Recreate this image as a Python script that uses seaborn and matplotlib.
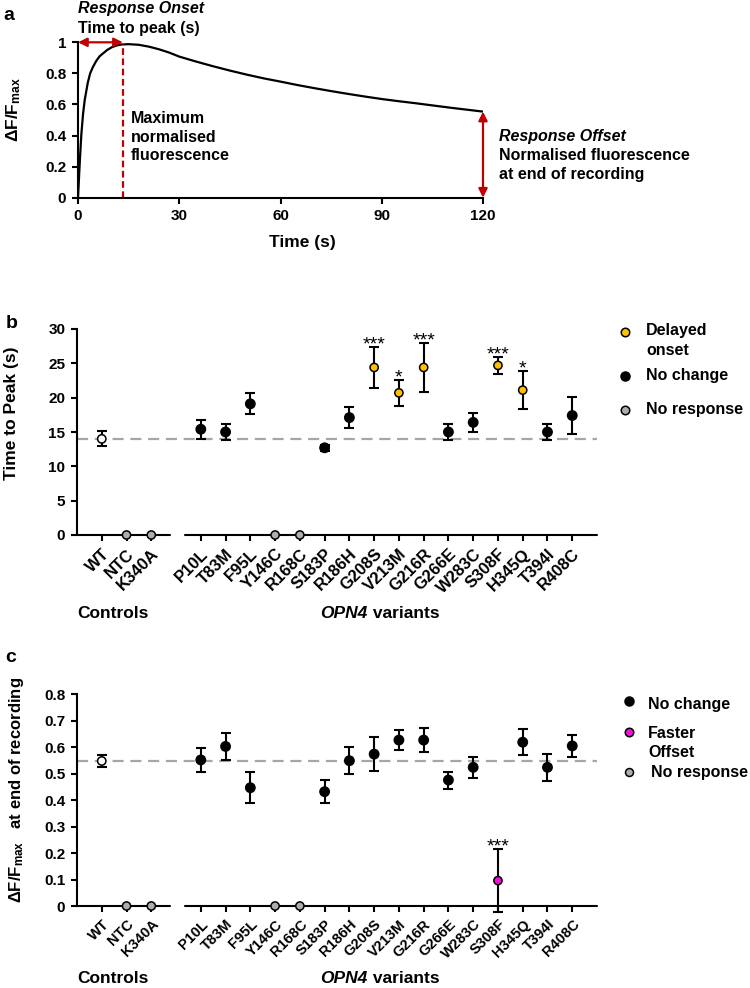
import matplotlib
matplotlib.use('Agg')
import matplotlib.pyplot as plt
import matplotlib.transforms as mtrans
from matplotlib.lines import Line2D
from matplotlib.ticker import FuncFormatter
import seaborn as sns
import pandas as pd

# ---------------- data ----------------
trace_time = [0, 0.3, 0.6, 1.0, 1.5, 2.0, 2.9, 3.6, 4.4, 5.4, 6.4, 7.5, 8.6, 10, 11.5, 13,
              15, 18, 21, 24, 27, 30, 35, 40, 45, 50, 55, 60, 65, 70, 75, 80, 85, 90,
              95, 100, 105, 110, 115, 120]
trace_dff = [0, 0.13, 0.26, 0.41, 0.54, 0.63, 0.74, 0.80, 0.84, 0.88, 0.91, 0.93, 0.95, 0.968,
             0.98, 0.986, 0.988, 0.984, 0.972, 0.955, 0.934, 0.908, 0.876, 0.846, 0.818, 0.792,
             0.768, 0.747, 0.725, 0.705, 0.686, 0.668, 0.651, 0.635, 0.621, 0.608, 0.594,
             0.58, 0.567, 0.554]
onset_time = 13.3
peak_dff = 0.99
offset_dff = 0.554

controls = ['WT', 'NTC', 'K340A']
variants = ['P10L', 'T83M', 'F95L', 'Y146C', 'R168C', 'S183P', 'R186H', 'G208S', 'V213M',
            'G216R', 'G266E', 'W283C', 'S308F', 'H345Q', 'T394I', 'R408C']
genotypes = controls + variants
x_pos = [0, 1, 2] + list(range(4, 20))

ttp_mean = [14.0, 0, 0, 15.4, 15.0, 19.1, 0, 0, 12.7, 17.1, 24.4, 20.7, 24.4, 15.0, 16.4,
            24.7, 21.1, 15.0, 17.4]
ttp_sem = [1.1, 0, 0, 1.35, 1.2, 1.55, 0, 0, 0.4, 1.55, 3.0, 1.9, 3.6, 1.2, 1.35, 1.2, 2.8,
           1.2, 2.7]
ttp_class = ['WT', 'No response', 'No response', 'No change', 'No change', 'No change',
             'No response', 'No response', 'No change', 'No change', 'Delayed onset',
             'Delayed onset', 'Delayed onset', 'No change', 'No change', 'Delayed onset',
             'Delayed onset', 'No change', 'No change']
ttp_stars = ['', '', '', '', '', '', '', '', '', '', '***', '*', '***', '', '', '***', '*', '', '']

off_mean = [0.548, 0, 0, 0.552, 0.603, 0.447, 0, 0, 0.432, 0.549, 0.574, 0.627, 0.627, 0.476,
            0.524, 0.096, 0.619, 0.524, 0.605]
off_sem = [0.023, 0, 0, 0.045, 0.052, 0.058, 0, 0, 0.044, 0.05, 0.065, 0.039, 0.044, 0.032,
           0.04, 0.12, 0.048, 0.052, 0.043]
off_class = ['WT', 'No response', 'No response', 'No change', 'No change', 'No change',
             'No response', 'No response', 'No change', 'No change', 'No change', 'No change',
             'No change', 'No change', 'No change', 'Faster offset', 'No change', 'No change',
             'No change']
off_stars = ['', '', '', '', '', '', '', '', '', '', '', '', '', '', '', '***', '', '', '']

# ---------------- style ----------------
sns.set_style('ticks')
plt.rcParams['font.family'] = ['Liberation Sans', 'DejaVu Sans']
plt.rcParams['font.weight'] = 'bold'
plt.rcParams['axes.labelweight'] = 'bold'
plt.rcParams['text.color'] = 'black'
plt.rcParams['axes.labelcolor'] = 'black'
plt.rcParams['xtick.color'] = 'black'
plt.rcParams['ytick.color'] = 'black'
plt.rcParams['axes.edgecolor'] = 'black'
plt.rcParams['mathtext.fontset'] = 'custom'
plt.rcParams['mathtext.rm'] = 'Liberation Sans:bold'
plt.rcParams['mathtext.it'] = 'Liberation Sans:bold:italic'
plt.rcParams['mathtext.bf'] = 'Liberation Sans:bold'
plt.rcParams['mathtext.default'] = 'regular'

RED = '#C00000'
YELLOW = '#FFC000'
GREY = '#ADADAD'
MAGENTA = '#F012D8'
DASHGREY = '#A6A6A6'
TXT = 11.5

W, H = 750, 988
fig = plt.figure(figsize=(W / 100, H / 100), dpi=100)
renderer = fig.canvas.get_renderer()


def fx(x):
    return x / W


def fy(y):
    return 1 - y / H


def style_axes(ax, tick_fs):
    sns.despine(ax=ax)
    for s in ('left', 'bottom'):
        ax.spines[s].set_linewidth(1.5)
        ax.spines[s].set_color('black')
    ax.tick_params(axis='both', direction='out', length=4.5, width=1.5, labelsize=tick_fs,
                   colors='black')
    ax.tick_params(axis='y', pad=4)
    ax.tick_params(axis='x', pad=3.5)
    for lab in ax.get_xticklabels() + ax.get_yticklabels():
        lab.set_fontweight('bold')


def gfmt(v, _):
    return f'{v:g}'


# ---------------- panel a ----------------
ax_a = fig.add_axes([fx(78), fy(197.7), (483 - 78) / W, (197.7 - 42.3) / H])
sns.lineplot(x=trace_time, y=trace_dff, ax=ax_a, color='black', lw=1.6)
ax_a.set_xlim(0, 120)
ax_a.set_ylim(0, 1)
ax_a.set_xticks([0, 30, 60, 90, 120])
ax_a.set_yticks([0, 0.2, 0.4, 0.6, 0.8, 1.0])
ax_a.yaxis.set_major_formatter(FuncFormatter(gfmt))
style_axes(ax_a, 11)
ax_a.set_xlabel('')
ax_a.set_ylabel('')
ax_a.plot([onset_time, onset_time], [0, peak_dff], color=RED, lw=1.6, ls=(0, (3, 1.6)), clip_on=False)
ax_a.annotate('', xy=(0, 1), xytext=(onset_time, 1),
              arrowprops=dict(arrowstyle='<|-|>', color=RED, lw=1.6, mutation_scale=13,
                              shrinkA=0, shrinkB=0), annotation_clip=False)
ax_a.annotate('', xy=(120, 0), xytext=(120, offset_dff),
              arrowprops=dict(arrowstyle='<|-|>', color=RED, lw=1.6, mutation_scale=13,
                              shrinkA=0, shrinkB=0), annotation_clip=False)

fig.text(fx(9), fy(15), 'a', fontsize=14, weight='bold', ha='center', va='center')
fig.text(fx(78), fy(13.5), 'Response Onset', fontsize=TXT, weight='bold', style='italic', va='baseline')
fig.text(fx(78), fy(33.5), 'Time to peak (s)', fontsize=TXT, weight='bold', va='baseline')
fig.text(fx(131), fy(122.7), 'Maximum', fontsize=TXT, weight='bold', va='baseline')
fig.text(fx(131), fy(141.7), 'normalised', fontsize=TXT, weight='bold', va='baseline')
fig.text(fx(131), fy(160.5), 'fluorescence', fontsize=TXT, weight='bold', va='baseline')
fig.text(fx(499), fy(140.7), 'Response Offset', fontsize=TXT, weight='bold', style='italic', va='baseline')
fig.text(fx(499), fy(160), 'Normalised fluorescence', fontsize=TXT, weight='bold', va='baseline')
fig.text(fx(499), fy(179), 'at end of recording', fontsize=TXT, weight='bold', va='baseline')
fig.text(fx(302), fy(243), 'Time (s)', fontsize=12.5, weight='bold', ha='center', va='center')
fig.text(fx(14), fy(110), 'ΔF/F$_{max}$', fontsize=12.5, weight='bold', rotation=90,
         ha='center', va='center')


# ---------------- panels b / c ----------------
def draw_panel(ax, mean, sem, cls, stars, palette, sizes, xtick_fs):
    df = pd.DataFrame({'x': x_pos, 'y': mean, 'sem': sem, 'cls': cls})
    ax.axhline(mean[0], color=DASHGREY, lw=1.6, ls=(0, (5, 3)), zorder=1)
    has = df[df['sem'] > 0]
    eb = ax.errorbar(has['x'], has['y'], yerr=has['sem'], fmt='none', ecolor='black',
                     elinewidth=1.5, capsize=3.6, capthick=1.5, zorder=2)
    for art in eb.get_children():
        art.set_clip_on(False)
    sns.scatterplot(data=df, x='x', y='y', hue='cls', palette=palette, size='cls',
                    sizes=sizes, edgecolor='black', linewidth=1.1, legend=False, ax=ax,
                    zorder=5, clip_on=False)
    for i, s in enumerate(stars):
        if s:
            ax.annotate(s, xy=(x_pos[i], mean[i] + sem[i]), xytext=(0, -2),
                        textcoords='offset points', ha='center', va='baseline',
                        fontsize=14, fontweight='normal')
    ax.set_xlim(-1, 20)
    ax.set_xticks(x_pos)
    ax.set_xticklabels(genotypes, rotation=45, ha='right', rotation_mode='anchor')
    style_axes(ax, 11)
    ax.tick_params(axis='x', labelsize=xtick_fs)
    ax.spines['bottom'].set_visible(False)
    tr = ax.get_xaxis_transform()
    ax.plot([-1, 2.75], [0, 0], transform=tr, color='black', lw=1.5, clip_on=False, zorder=3)
    ax.plot([3.35, 20], [0, 0], transform=tr, color='black', lw=1.5, clip_on=False, zorder=3)
    ax.set_xlabel('')
    ax.set_ylabel('')


def group_labels(ax, yfrac, fs):
    tr = mtrans.blended_transform_factory(ax.transData, ax.transAxes)
    ax.text(0.45, yfrac, 'Controls', transform=tr, fontsize=fs, weight='bold',
            ha='center', va='center')
    # "OPN4" italic + " variants" upright, centred together
    parts = [('OPN4', 'italic'), (' variants', 'normal')]
    widths = []
    for txt, st in parts:
        t = fig.text(0, 0, txt, fontsize=fs, weight='bold', style=st)
        widths.append(t.get_window_extent(renderer).width)
        t.remove()
    total = sum(widths)
    off = -total / 2
    for (txt, st), w in zip(parts, widths):
        ax.annotate(txt, xy=(11.24, yfrac), xycoords=tr, xytext=(off * 72 / 100, 0),
                    textcoords='offset points', ha='left', va='center', fontsize=fs,
                    weight='bold', style=st, annotation_clip=False)
        off += w


def legend_marker(x, y, color, d_px, edge='black', mew=1.1):
    fig.add_artist(Line2D([fx(x)], [fy(y)], transform=fig.transFigure, marker='o', ls='none',
                          ms=d_px * 0.72 - mew, mfc=color, mec=edge, mew=mew))


def legend_text(x, y, s):
    fig.text(fx(x), fy(y), s, fontsize=TXT, weight='bold', va='baseline', ha='left')


# panel b
ax_b = fig.add_axes([fx(77), fy(535), 520 / W, 206 / H])
draw_panel(ax_b, ttp_mean, ttp_sem, ttp_class, ttp_stars,
           {'WT': 'white', 'No response': GREY, 'No change': 'black', 'Delayed onset': YELLOW},
           {'WT': 36, 'No response': 35, 'No change': 45, 'Delayed onset': 35}, 12)
ax_b.set_ylim(0, 30)
ax_b.set_yticks([0, 5, 10, 15, 20, 25, 30])
group_labels(ax_b, (535 - 613) / 206, 12.5)
fig.text(fx(12), fy(323), 'b', fontsize=14, weight='bold', ha='center', va='center')
fig.text(fx(12), fy(413), 'Time to Peak (s)', fontsize=12.5, weight='bold', rotation=90,
         ha='center', va='center')
legend_marker(624.5, 332.3, YELLOW, 10)
legend_text(646, 335, 'Delayed')
legend_text(646, 355, 'onset')
legend_marker(624.5, 376.5, 'black', 10.5)
legend_text(646, 380, 'No change')
legend_marker(624.5, 409.5, GREY, 10)
legend_text(646, 414, 'No response')

# panel c
ax_c = fig.add_axes([fx(77), fy(906), 520 / W, 211.7 / H])
draw_panel(ax_c, off_mean, off_sem, off_class, off_stars,
           {'WT': 'white', 'No response': GREY, 'No change': 'black', 'Faster offset': MAGENTA},
           {'WT': 36, 'No response': 35, 'No change': 45, 'Faster offset': 35}, 10.5)
ax_c.set_ylim(0, 0.8)
ax_c.set_yticks([0, 0.1, 0.2, 0.3, 0.4, 0.5, 0.6, 0.7, 0.8])
ax_c.yaxis.set_major_formatter(FuncFormatter(gfmt))
group_labels(ax_c, (906 - 978) / 211.7, 12.5)
fig.text(fx(11), fy(657), 'c', fontsize=14, weight='bold', ha='center', va='center')
fig.text(fx(17), fy(790), 'ΔF/F$_{max}$   at end of recording', fontsize=12, weight='bold',
         rotation=90, ha='center', va='center')
legend_marker(629.3, 700.7, 'black', 10.5)
legend_text(648, 709, 'No change')
legend_marker(629.3, 732.3, MAGENTA, 10)
legend_text(648, 738, 'Faster')
legend_text(648, 757.3, 'Offset')
legend_marker(629.3, 772.3, GREY, 9.5)
legend_text(651, 777.3, 'No response')

fig.savefig('out.png', dpi=100)
